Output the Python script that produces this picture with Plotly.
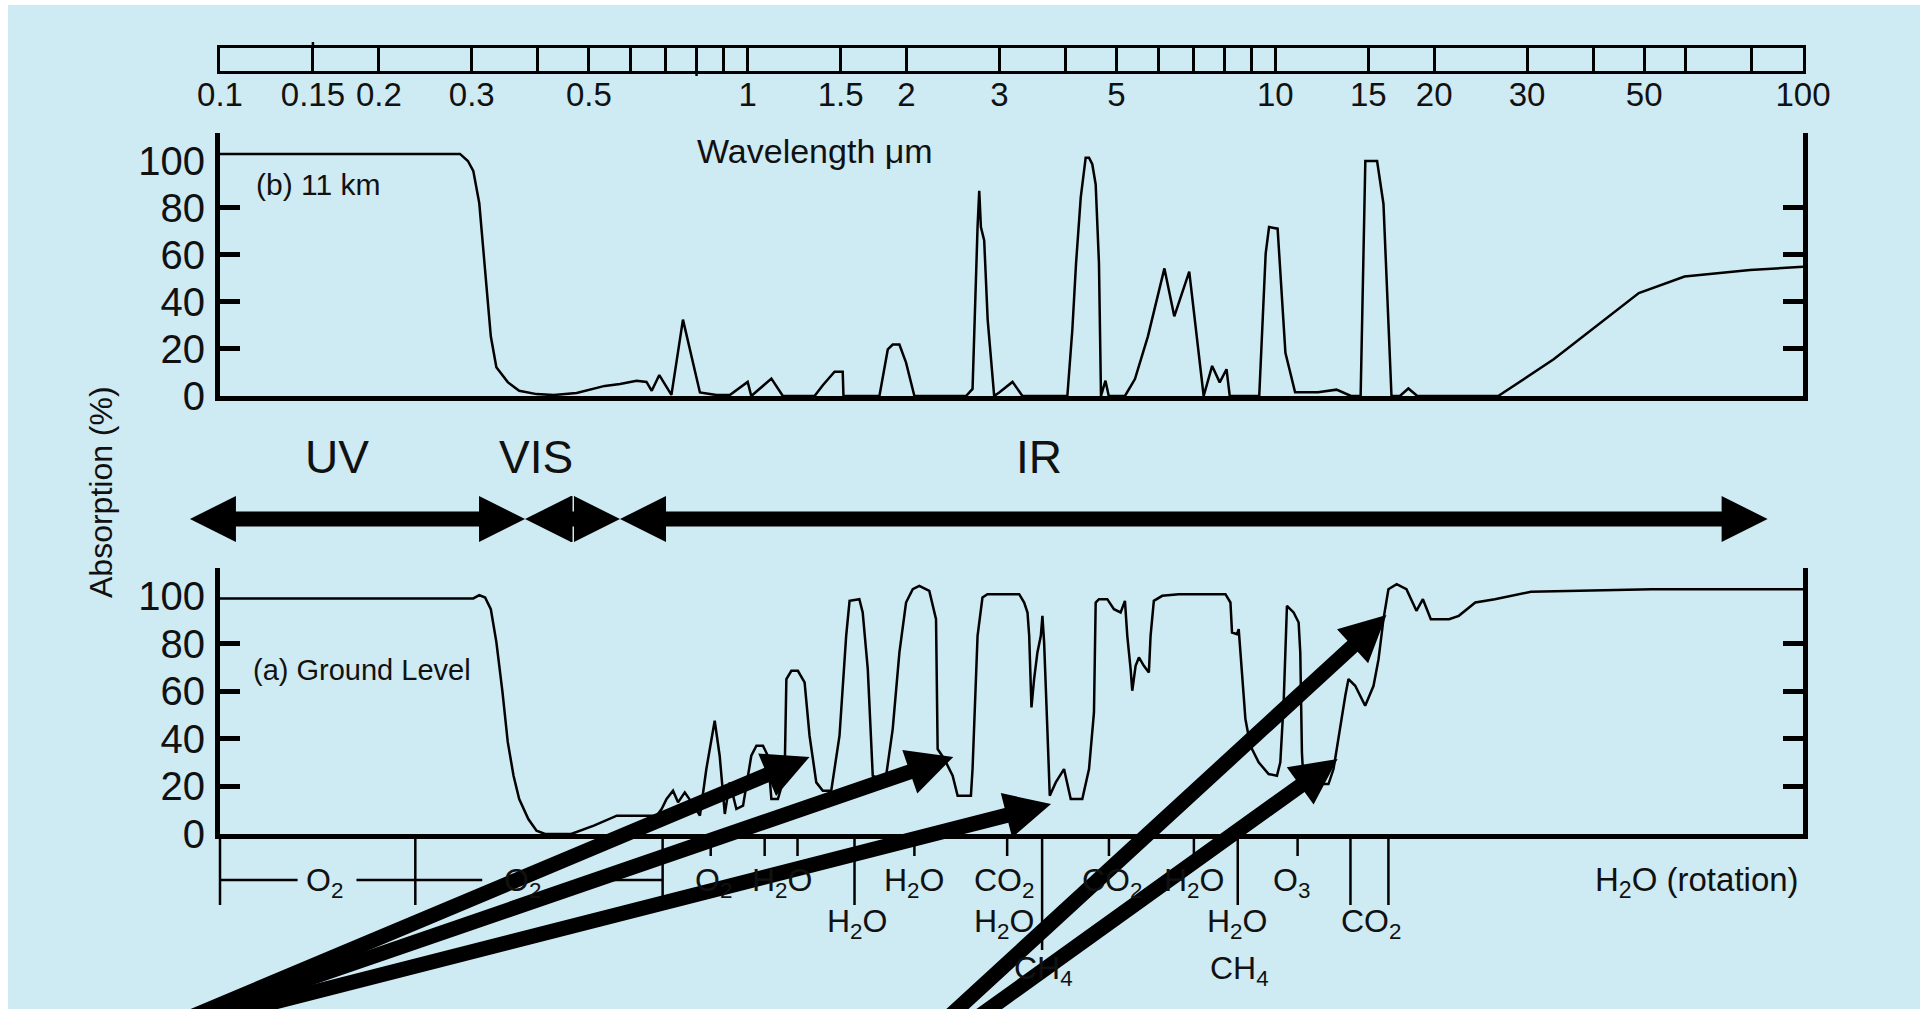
import math
import plotly.graph_objects as go

W, H = 1928, 1009

# ------------------------------------------------------------------ data
# (b) 11 km : wavelength (um) / absorption (%)
wl_11km = [0.1, 0.285, 0.295, 0.302, 0.310, 0.318, 0.326, 0.334, 0.351, 0.369,
           0.398, 0.429, 0.474, 0.536, 0.573, 0.616, 0.643, 0.658, 0.680, 0.717,
           0.754, 0.812, 0.873, 0.925, 1.0, 1.016, 1.109, 1.166, 1.339, 1.388,
           1.461, 1.514, 1.519, 1.777, 1.843, 1.883, 1.939, 1.996, 2.070, 2.593,
           2.668, 2.727, 2.747, 2.767, 2.807, 2.850, 2.932, 2.997, 3.176, 3.317,
           4.035, 4.124, 4.191, 4.278, 4.371, 4.435, 4.499, 4.566, 4.598, 4.632,
           4.673, 4.765, 4.834, 5.188, 5.419, 5.735, 6.163, 6.434, 6.868, 7.314,
           7.590, 7.845, 8.082, 8.196, 9.322, 9.587, 9.730, 10.10, 10.45, 10.90,
           12.05, 13.06, 13.91, 14.51, 14.81, 15.59, 16.03, 16.60, 17.22, 17.87,
           18.58, 26.45, 33.69, 48.85, 59.64, 68.80, 79.37, 100]
abs_11km = [103, 103, 100, 95.8, 82, 53.6, 25.4, 12.2, 5.9, 2.2,
            0.8, 0.4, 1.3, 4.3, 5.1, 6.5, 6.0, 2.2, 8.9, 0.5,
            32.5, 1.5, 0.4, 0.4, 6.0, 0, 7.4, 0, 0, 4.6,
            10.3, 10.3, 0, 0, 19.8, 21.9, 21.9, 14.2, 0, 0,
            3, 71.9, 87.3, 71.9, 66.2, 32.5, 0, 1.5, 6.0, 0,
            0, 28.3, 56.4, 84.5, 101.4, 101.4, 98.6, 90, 70.5, 56.4,
            0, 6.5, 0, 0, 7.2, 25.4, 54.3, 33.9, 52.9, 0,
            12.8, 5.8, 11.4, 0, 0, 60.6, 71.9, 71.2, 18.4, 1.6,
            1.6, 2.7, 0, 0, 100, 100, 81.7, 0, 0, 3.2,
            0, 0, 15.6, 43.8, 50.8, 52.2, 53.6, 55]

# (a) ground level
wl_ground = [0.1, 0.302, 0.310, 0.318, 0.326, 0.334, 0.343, 0.351, 0.360, 0.369,
             0.384, 0.398, 0.413, 0.463, 0.511, 0.565, 0.672, 0.687, 0.702, 0.722,
             0.738, 0.760, 0.783, 0.812, 0.835, 0.866, 0.885, 0.905, 0.925, 0.952,
             0.980, 1.016, 1.039, 1.069, 1.092, 1.109, 1.141, 1.175, 1.184, 1.210,
             1.245, 1.282, 1.310, 1.349, 1.388, 1.440, 1.493, 1.537, 1.560, 1.628,
             1.652, 1.689, 1.726, 1.777, 1.830, 1.883, 1.939, 1.996, 2.055, 2.115,
             2.209, 2.275, 2.291, 2.359, 2.446, 2.500, 2.649, 2.668, 2.727, 2.786,
             2.847, 3.270, 3.342, 3.391, 3.416, 3.441, 3.450, 3.490, 3.541, 3.594,
             3.619, 3.646, 3.673, 3.698, 3.737, 3.836, 3.977, 4.095, 4.307, 4.435,
             4.532, 4.566, 4.632, 4.803, 4.945, 5.091, 5.188, 5.241, 5.318, 5.356,
             5.435, 5.514, 5.635, 5.759, 5.802, 5.885, 6.104, 6.562, 8.043, 8.221,
             8.278, 8.460, 8.523, 8.586, 8.776, 8.969, 9.298, 9.712, 10.07, 10.22,
             10.37, 10.52, 10.83, 11.07, 11.15, 11.23, 11.31, 11.56, 12.61, 12.89,
             13.18, 13.57, 13.76, 14.17, 14.80, 15.35, 15.69, 16.03, 16.38, 16.98,
             17.72, 18.51, 19.04, 19.71, 21.34, 22.27, 23.93, 26.06, 30.50, 36.71,
             51.70, 100]
abs_ground = [99, 99, 100.4, 99.4, 94.5, 80.7, 59.7, 38.7, 24.5, 14.7,
              6.3, 1.4, 0, 0, 3.5, 7.7, 7.7, 10.5, 14.7, 18.2,
              13.3, 17.5, 13.3, 7.7, 27.3, 47.6, 32.9, 8.4, 21.7, 10.5,
              11.9, 32.9, 37.1, 37.1, 32.9, 14.7, 14.7, 24.5, 65.1, 68.6,
              68.6, 63.7, 41.3, 21.7, 18.2, 18.2, 41.3, 83.3, 98.0, 98.7,
              93.1, 69.3, 24.5, 23.1, 24.5, 44.1, 76.3, 97.3, 102.9, 104.3,
              102.2, 90.3, 35.7, 31.5, 24.5, 16.1, 16.1, 27.3, 83.3, 99.4,
              100.8, 100.8, 97.3, 93.1, 83.3, 63.7, 53.2, 65.1, 76.3, 83.3,
              91.7, 80.5, 63.7, 44.1, 16.1, 21.7, 27.3, 14.7, 14.7, 27.3,
              51.1, 97.3, 98.7, 98.7, 94.5, 93.1, 98.0, 83.3, 69.3, 60.2,
              70.7, 74.2, 70.7, 67.9, 83.3, 98.0, 100.1, 100.8, 100.8, 97.3,
              84.7, 84.0, 86.1, 76.3, 48.3, 37.1, 30.1, 25.2, 24.5, 30.1,
              55.3, 95.9, 93.1, 88.9, 76.3, 34.3, 21.7, 21.0, 21.0, 27.3,
              41.3, 58.1, 65.1, 62.3, 53.9, 62.3, 73.5, 90.3, 102.9, 105,
              102.9, 93.8, 98.7, 90.3, 90.3, 91.7, 97.3, 98.7, 101.8, 102.2,
              102.9, 102.9]

# wavelength scale: labelled ticks and unlabelled divisions
scale_major = [0.1, 0.15, 0.2, 0.3, 0.5, 1, 1.5, 2, 3, 5, 10, 15, 20, 30, 50, 100]
scale_major_text = ["0.1", "0.15", "0.2", "0.3", "0.5", "1", "1.5", "2", "3", "5",
                    "10", "15", "20", "30", "50", "100"]
scale_minor = [0.4, 0.6, 0.7, 0.8, 0.9, 4, 6, 7, 8, 9, 40, 60, 80]
abs_ticks = [0, 20, 40, 60, 80, 100]
abs_ticktext = ["0", "20", "40", "60", "80", "100"]

regions = ["UV", "VIS", "IR"]
region_edges = [0.0877, 0.3785, 0.5729, 85.7]       # um
region_label_wl = [0.1669, 0.3972, 3.567]

band_long_ticks = [0.1, 0.2345, 0.690, 1.594, 8.487, 13.88, 16.38]
band_ch4_tick = 3.614
band_short_ticks = [0.8511, 1.077, 1.243, 2.070, 3.103, 4.838, 7.009, 11.02]
band_brackets = [(0.1, 0.1403), (0.1814, 0.3140), (0.4853, 0.690)]
band_labels = ["O<sub>2</sub>", "O<sub>2</sub>", "O<sub>2</sub>", "H<sub>2</sub>O",
               "H<sub>2</sub>O", "CO<sub>2</sub>", "CO<sub>2</sub>", "H<sub>2</sub>O",
               "O<sub>3</sub>", "H<sub>2</sub>O", "H<sub>2</sub>O", "H<sub>2</sub>O",
               "CO<sub>2</sub>", "CH<sub>4</sub>", "CH<sub>4</sub>"]
band_label_wl = [0.1578, 0.3737, 0.8624, 1.160, 2.070, 3.063, 4.902, 7.009, 10.73,
                 1.608, 3.063, 8.450, 15.21, 3.630, 8.561]
band_label_row = [1, 1, 1, 1, 1, 1, 1, 1, 1, 2, 2, 2, 2, 3, 3]

# arrows pointing at absorption windows (tips in wavelength / absorption on ground panel)
arrow_tip_wl = [1.310, 2.453, 3.758, 16.24, 13.12]
arrow_tip_abs = [32.4, 32.4, 12.6, 92.0, 31.5]

# ------------------------------------------------------------------ geometry / style
BG = "#CEEAF2"
FONT = "Liberation Sans, Arial, sans-serif"
X0PX, X1PX = 220, 1803
BOT_ZERO, BOT_TOP, BOT_MAX = 834, 568, 111.8
TOP_ZERO, TOP_TOP, TOP_MAX = 396, 133, 111.9
SCALE_TOP, SCALE_BOT = 48, 71


def px_x(wl):
    return X0PX + (math.log10(wl) + 1) / 3 * (X1PX - X0PX)


def px_yb(a):
    return BOT_ZERO - a * (BOT_ZERO - BOT_TOP) / BOT_MAX


def pp(x, y):
    return x / W, 1 - y / H


def poly(pts):
    s = []
    for x, y in pts:
        a, b = pp(x, y)
        s.append(f"{a:.5f},{b:.5f}")
    return "M " + " L ".join(s) + " Z"


def arrow_pts(x0, y0, x1, y1, shaft=15, hl=46, hw=46):
    dx, dy = x1 - x0, y1 - y0
    L = math.hypot(dx, dy)
    ux, uy = dx / L, dy / L
    nx, ny = -uy, ux
    bx, by = x1 - ux * hl, y1 - uy * hl
    s, h = shaft / 2, hw / 2
    return [(x0 + nx * s, y0 + ny * s), (bx + nx * s, by + ny * s), (bx + nx * h, by + ny * h),
            (x1, y1), (bx - nx * h, by - ny * h), (bx - nx * s, by - ny * s),
            (x0 - nx * s, y0 - ny * s)]


def dbl_arrow_pts(xl, xr, yc, shaft=15, hl=46, hw=46):
    s, h = shaft / 2, hw / 2
    return [(xl, yc), (xl + hl, yc - h), (xl + hl, yc - s), (xr - hl, yc - s), (xr - hl, yc - h),
            (xr, yc), (xr - hl, yc + h), (xr - hl, yc + s), (xl + hl, yc + s), (xl + hl, yc + h)]


dom_x = [X0PX / W, X1PX / W]

fig = go.Figure()
fig.add_trace(go.Scatter(x=wl_ground, y=abs_ground, xaxis="x", yaxis="y", mode="lines",
                         line=dict(color="black", width=2.5), showlegend=False, hoverinfo="skip"))
fig.add_trace(go.Scatter(x=wl_11km, y=abs_11km, xaxis="x2", yaxis="y2", mode="lines",
                         line=dict(color="black", width=2.5), showlegend=False, hoverinfo="skip"))
for xa, ya in [("x3", "y3"), ("x", "y4"), ("x2", "y5")]:
    fig.add_trace(go.Scatter(x=[1], y=[0.5], xaxis=xa, yaxis=ya, mode="markers",
                             marker=dict(opacity=0), showlegend=False, hoverinfo="skip"))

tickfont = dict(family=FONT, size=40, color="#111111")
panel_x = dict(type="log", range=[-1, 2], domain=dom_x, showline=True, linecolor="black",
               linewidth=5, ticks="", showticklabels=False, showgrid=False, zeroline=False,
               automargin=False, fixedrange=True)
label_y = dict(showline=True, linecolor="black", linewidth=5, mirror=True, ticks="",
               tickvals=abs_ticks, ticktext=abs_ticktext, tickfont=tickfont, showgrid=False,
               zeroline=False, automargin=False, ticklabelstandoff=2, fixedrange=True)
tick_y = dict(showline=True, linecolor="black", linewidth=5, mirror="ticks", ticks="inside",
              ticklen=20, tickwidth=5, tickcolor="black", tickvals=abs_ticks[1:-1],
              showticklabels=False, showgrid=False, zeroline=False, automargin=False,
              fixedrange=True)

fig.update_layout(
    width=W, height=H, margin=dict(l=0, r=0, t=0, b=0), autosize=False,
    template="none", paper_bgcolor="white", plot_bgcolor="rgba(0,0,0,0)",
    showlegend=False,
    xaxis=dict(panel_x, anchor="y"),
    yaxis=dict(label_y, domain=[1 - BOT_ZERO / H, 1 - BOT_TOP / H], range=[0, BOT_MAX], anchor="x"),
    yaxis4=dict(tick_y, overlaying="y", range=[0, BOT_MAX], anchor="x"),
    xaxis2=dict(panel_x, anchor="y2"),
    yaxis2=dict(label_y, domain=[1 - TOP_ZERO / H, 1 - TOP_TOP / H], range=[0, TOP_MAX], anchor="x2"),
    yaxis5=dict(tick_y, overlaying="y2", range=[0, TOP_MAX], anchor="x2"),
    xaxis3=dict(type="log", range=[-1, 2], domain=dom_x, anchor="y3", showline=True, mirror=True,
                linecolor="black", linewidth=3, showgrid=True, gridcolor="black", gridwidth=2.5,
                tickmode="array", tickvals=scale_major, ticktext=scale_major_text, ticks="",
                ticklabelstandoff=-8,
                minor=dict(tickmode="array", tickvals=scale_minor, showgrid=True,
                           gridcolor="black", gridwidth=2.5, ticks=""),
                tickfont=dict(family=FONT, size=33, color="#111111"), zeroline=False,
                automargin=False, fixedrange=True),
    yaxis3=dict(domain=[1 - SCALE_BOT / H, 1 - SCALE_TOP / H], range=[0, 1], anchor="x3",
                showline=True, mirror=True, linecolor="black", linewidth=3, ticks="",
                showticklabels=False, showgrid=False, zeroline=False, automargin=False,
                fixedrange=True),
)

shapes = []
# background panel (white frame around)
shapes.append(dict(type="rect", xref="paper", yref="paper", x0=8 / W, x1=1920 / W, y0=0,
                   y1=1 - 5 / H, fillcolor=BG, line=dict(width=0), layer="below"))
# long ticks on the top scale
for wl, ya, yb in [(0.15, 42, 48), (0.8, 71, 76)]:
    a, b = pp(px_x(wl), ya)
    c, d = pp(px_x(wl), yb)
    shapes.append(dict(type="line", xref="paper", yref="paper", x0=a, x1=c, y0=b, y1=d,
                       line=dict(color="black", width=2.5)))
# spectral region arrows
YC = 519
for i in range(3):
    xl, xr = px_x(region_edges[i]), px_x(region_edges[i + 1])
    shapes.append(dict(type="path", xref="paper", yref="paper", path=poly(dbl_arrow_pts(xl, xr, YC)),
                       fillcolor="black", line=dict(width=0)))
xm = (px_x(region_edges[1]) + px_x(region_edges[2])) / 2 - 1
a, b = pp(xm, 496)
c, d = pp(xm, 542)
shapes.append(dict(type="line", xref="paper", yref="paper", x0=a, x1=c, y0=b, y1=d,
                   line=dict(color="black", width=2)))


# band ticks under the ground-level axis
def vline(wl, y0, y1, w=2.5):
    a, b = pp(px_x(wl), y0)
    c, d = pp(px_x(wl), y1)
    return dict(type="line", xref="paper", yref="paper", x0=a, x1=c, y0=b, y1=d,
                line=dict(color="black", width=w))


for wl in band_long_ticks:
    shapes.append(vline(wl, 839, 905))
shapes.append(vline(band_ch4_tick, 839, 950))
for wl in band_short_ticks:
    shapes.append(vline(wl, 839, 856))
for w0, w1 in band_brackets:
    a, b = pp(px_x(w0), 880)
    c, d = pp(px_x(w1), 880)
    shapes.append(dict(type="line", xref="paper", yref="paper", x0=a, x1=c, y0=b, y1=d,
                       line=dict(color="black", width=2.5)))

# big pointer arrows
tails = [(160, 1030), (165, 1028), (165, 1030), (940, 1025), (960, 1030)]
for (tx, ty), wl, ab in zip(tails, arrow_tip_wl, arrow_tip_abs):
    shapes.append(dict(type="path", xref="paper", yref="paper",
                       path=poly(arrow_pts(tx, ty, px_x(wl), px_yb(ab))),
                       fillcolor="black", line=dict(width=0)))

fig.update_layout(shapes=shapes)

ann = []


def text(x, y, s, size, xanchor="center", angle=0, family=FONT):
    a, b = pp(x, y)
    ann.append(dict(x=a, y=b, xref="paper", yref="paper", text=s, showarrow=False,
                    xanchor=xanchor, yanchor="middle", textangle=angle,
                    font=dict(family=family, size=size, color="#111111")))


text(815, 151, "Wavelength μm", 34)
text(254, 184, "(b) 11 km", 30, xanchor="left")
text(251, 670, "(a) Ground Level", 29, xanchor="left")
text(101, 492, "Absorption (%)", 32, angle=-90)
for name, wl in zip(regions, region_label_wl):
    text(px_x(wl), 457, name, 46)
row_y = {1: 882, 2: 923, 3: 970}
for s, wl, r in zip(band_labels, band_label_wl, band_label_row):
    text(px_x(wl), row_y[r], s, 32)
text(1801, 882, "H<sub>2</sub>O (rotation)", 33, xanchor="right")

fig.update_layout(annotations=ann)
fig.write_html("out.html")
